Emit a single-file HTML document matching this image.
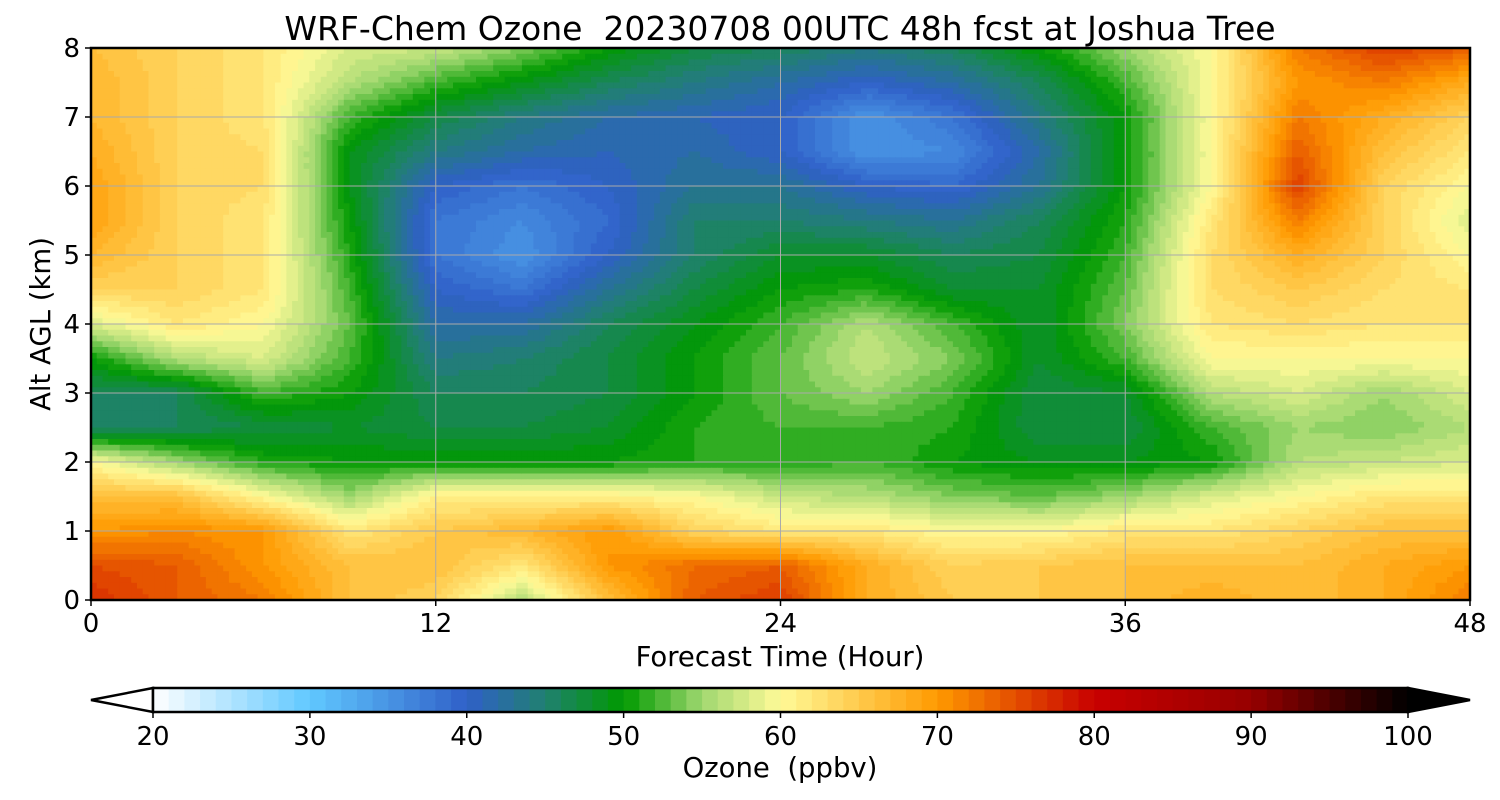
<!DOCTYPE html>
<html><head><meta charset="utf-8"><style>
body{margin:0;background:#fff;}
svg{display:block;font-family:"DejaVu Sans","Liberation Sans",sans-serif;}
</style></head><body>
<svg id="chart" width="1500" height="800">
<defs><clipPath id="pc"><rect x="91" y="48" width="1379" height="552"/></clipPath></defs>
<text x="780" y="40" font-size="33" text-anchor="middle" xml:space="preserve">WRF-Chem Ozone  20230708 00UTC 48h fcst at Joshua Tree</text>
<g id="field" clip-path="url(#pc)"></g>
<g id="grid"></g>
<rect x="91" y="48" width="1379" height="552" fill="none" stroke="#000" stroke-width="2.5"/>
<g id="axes" font-size="26"></g>
<text x="780" y="666" font-size="27.5" text-anchor="middle">Forecast Time (Hour)</text>
<text transform="translate(50,324) rotate(-90)" font-size="27.5" text-anchor="middle">Alt AGL (km)</text>
<g id="cbar"></g>
<text x="780" y="777" font-size="27.5" text-anchor="middle" xml:space="preserve">Ozone  (ppbv)</text>
</svg>
<script>
const hours=[0,3,6,9,12,15,18,21,24,27,30,33,36,39,42,45,48];
const alts=[8,7.5,7,6.5,6,5.5,5,4.5,4,3.5,3,2.5,2,1.5,1,0.5,0];
const row80=[66,64,62,58,57,54,50,47,46,44,46,50,55,60,72,76,74];
const row75=[67,64,62,56,52,49,46,44,42,40,42,46,52,60,70,72,68];
const row70=[67,64,62,52,47,44,42,41,40,35,38,44,50,60,72,68,64];
const row65=[68,64,63,49,44,42,41,42,40,35,36,42,50,60,74,66,62];
const row60=[69,64,63,49,40,38,40,43,43,40,39,43,50,60,76,64,60];
const row55=[69,64,62,50,38,36,39,45,45,44,43,46,51,62,72,64,58];
const row50=[67,64,62,51,38,35,40,45,48,48,46,47,52,63,68,64,60];
const row45=[64,64,62,52,40,38,43,47,50,51,48,48,53,63,65,63,62];
const row40=[58,62,60,53,42,42,46,49,52,56,52,48,54,62,63,62,62];
const row35=[50,56,58,52,44,45,47,50,53,57,54,48,52,60,60,60,60];
const row30=[46,46,52,50,46,46,47,50,53,55,52,47,48,56,58,55,58];
const row25=[45,46,47,48,47,47,48,51,52,52,51,47,47,52,55,54,56];
const row20=[60,55,51,50,50,50,50,51,51,52,50,49,49,50,56,57,58];
const row15=[66,66,60,55,61,61,61,60,57,56,54,53,55,58,60,62,62];
const row10=[70,71,70,62,65,67,70,64,62,62,60,60,62,62,64,66,66];
const row05=[75,74,70,66,66,62,70,73,74,68,64,65,66,66,66,68,70];
const row00=[77,74,72,66,64,56,66,74,76,68,65,65,66,68,66,68,72];
const ozone=[row80,row75,row70,row65,row60,row55,row50,row45,row40,row35,row30,row25,row20,row15,row10,row05,row00];
const xTicks=[0,12,24,36,48];
const yTicks=[0,1,2,3,4,5,6,7,8];
const cbTicks=[20,30,40,50,60,70,80,90,100];
const cmapV=[20,30,40,45,50,55,60,70,80,90,100];
const cmapC=[[255,255,255],[96,200,255],[48,96,200],[32,128,112],[0,154,0],[160,216,112],[255,250,152],[255,154,0],[200,0,0],[150,0,0],[0,0,0]];

const NS="http://www.w3.org/2000/svg";
const X=h=>91+h/48*1379, Y=a=>600-a/8*552;
const CB=v=>153+(v-20)/80*1255;
function col(v){
  v=Math.floor(v);v=Math.max(20,Math.min(99.9,v))+0.5;
  let i=0;while(i<cmapV.length-2&&v>cmapV[i+1])i++;
  const t=(v-cmapV[i])/(cmapV[i+1]-cmapV[i]);
  const c=cmapC[i].map((a,k)=>Math.round(a+(cmapC[i+1][k]-a)*t));
  return `rgb(${c[0]},${c[1]},${c[2]})`;
}
function mk(tag,at,parent){const e=document.createElementNS(NS,tag);for(const k in at)e.setAttribute(k,at[k]);parent.appendChild(e);return e;}
const field=document.getElementById('field');
const S=6;
for(let i=0;i<alts.length-1;i++){
  for(let j=0;j<hours.length-1;j++){
    const x0=X(hours[j]),x1=X(hours[j+1]),y0=Y(alts[i]),y1=Y(alts[i+1]);
    const nx=Math.ceil((x1-x0)/S),ny=Math.ceil((y1-y0)/S);
    const a=ozone[i][j],b=ozone[i][j+1],c=ozone[i+1][j],d=ozone[i+1][j+1];
    for(let p=0;p<ny;p++)for(let q=0;q<nx;q++){
      const u=(q+0.5)/nx,w=(p+0.5)/ny;
      const v=a*(1-u)*(1-w)+b*u*(1-w)+c*(1-u)*w+d*u*w;
      const r=mk('rect',{x:(x0+(x1-x0)*q/nx).toFixed(1),y:(y0+(y1-y0)*p/ny).toFixed(1),width:((x1-x0)/nx+0.6).toFixed(1),height:((y1-y0)/ny+0.6).toFixed(1),fill:col(v)},field);
      
      
    }
  }
}
const grid=document.getElementById('grid'),axes=document.getElementById('axes');
xTicks.forEach(h=>{
  const l=mk('line',{x1:X(h),x2:X(h),y1:48,y2:600,stroke:'#aaa','stroke-width':1},grid);
  
  const t=mk('line',{x1:X(h),x2:X(h),y1:600,y2:606,stroke:'#000','stroke-width':1.5},axes);
  
  const tx=mk('text',{x:X(h),y:632,'text-anchor':'middle'},axes);tx.textContent=h;
  
});
yTicks.forEach(a=>{
  const l=mk('line',{x1:91,x2:1470,y1:Y(a),y2:Y(a),stroke:'#aaa','stroke-width':1},grid);
  
  const t=mk('line',{x1:85,x2:91,y1:Y(a),y2:Y(a),stroke:'#000','stroke-width':1.5},axes);
  
  const tx=mk('text',{x:80,y:Y(a)+9,'text-anchor':'end'},axes);tx.textContent=a;
  
});
const cb=document.getElementById('cbar');
const tri1=mk('polygon',{points:'153,688 91,700 153,712',fill:'#fff',stroke:'#000','stroke-width':2.5},cb);

const tri2=mk('polygon',{points:'1408,688 1470,700 1408,712',fill:'#000',stroke:'#000','stroke-width':2.5},cb);

for(let v=20;v<100;v++){
  const r=mk('rect',{x:CB(v),y:688,width:1255/80+0.5,height:24,fill:col(v)},cb);
  
}
const fr=mk('rect',{x:153,y:688,width:1255,height:24,fill:'none',stroke:'#000','stroke-width':2.5},cb);

cbTicks.forEach(v=>{
  const t=mk('line',{x1:CB(v),x2:CB(v),y1:712,y2:718,stroke:'#000','stroke-width':1.5},cb);
  
  const tx=mk('text',{x:CB(v),y:745,'text-anchor':'middle','font-size':26},cb);tx.textContent=v;
  
});
</script>
</body></html>
